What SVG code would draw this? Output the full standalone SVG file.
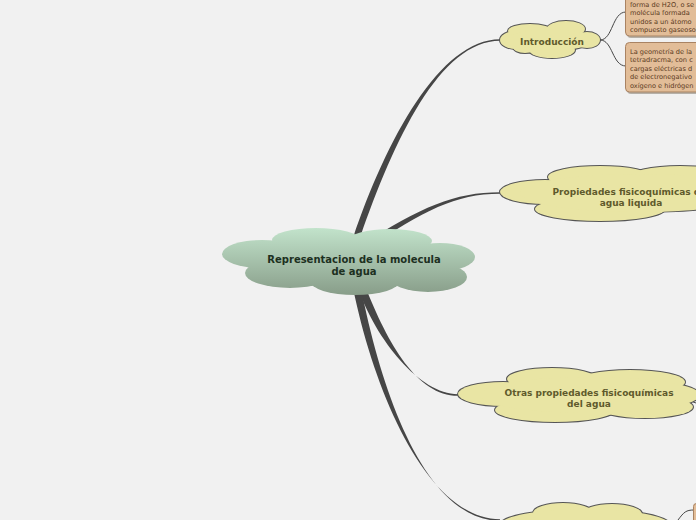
<svg xmlns="http://www.w3.org/2000/svg" width="696" height="520" viewBox="0 0 696 520">
<defs>
<linearGradient id="gc" gradientUnits="userSpaceOnUse" x1="0" y1="228" x2="0" y2="296">
<stop offset="0" stop-color="#c2e3cb"/>
<stop offset="1" stop-color="#879c88"/>
</linearGradient>
<clipPath id="cb1"><rect x="625" y="-6" width="80" height="42" rx="4"/></clipPath>
<clipPath id="cb2"><rect x="625" y="42" width="80" height="50" rx="4"/></clipPath>
</defs>
<style>
.yo ellipse{fill:none;stroke:#555;stroke-width:2}
.yf ellipse{fill:#e9e5a4;stroke:none}
.ct{font-family:"DejaVu Sans",Verdana,sans-serif;font-weight:bold;text-anchor:middle}
.yt{font-size:9px;fill:#5f5a2c}
.bt{font-family:"DejaVu Sans",Verdana,sans-serif;font-size:6.6px;fill:#5a3a1e}
.box{fill:#e2bd98;stroke:#a98363;stroke-width:1}
.sh{fill:#b5b0a8}
.con{fill:#464646;stroke:none}
.thin{fill:none;stroke:#464646;stroke-width:1}
</style>
<rect width="696" height="520" fill="#f1f1f1"/>

<g id="connectors">
<path class="con" d="M353,238 C386,140 440,39.2 500,39.2 L500,40.8 C440,40.8 394,140 360,238 Z"/>
<path class="con" d="M362,245 C420,207 455,192.2 500,192.2 L500,193.8 C455,193.8 424,211 366,249 Z"/>
<path class="con" d="M358,288 C376,340 420,394.2 458,394.2 L458,395.8 C417,395.8 388,344 365,286 Z"/>
<path class="con" d="M353,288 C376,400 430,519.2 500,519.2 L500,520.8 C428,520.8 383,400 361,288 Z"/>
<path class="thin" d="M600,40 C613,40 612,12 626,12"/>
<path class="thin" d="M600,40 C613,40 612,66 626,66"/>
<path class="thin" d="M678,520 C684,512 686,510 694,510"/>
<path class="thin" d="M688,400 L696,403"/>
</g>

<g id="central">
<g fill="url(#gc)">
<ellipse cx="262" cy="254" rx="40" ry="14"/>
<ellipse cx="316" cy="240" rx="44" ry="12"/>
<ellipse cx="390" cy="241" rx="42" ry="12"/>
<ellipse cx="440" cy="257" rx="35" ry="14"/>
<ellipse cx="428" cy="277" rx="39" ry="15"/>
<ellipse cx="355" cy="281" rx="45" ry="14"/>
<ellipse cx="290" cy="273" rx="45" ry="15"/>
<ellipse cx="350" cy="262" rx="95" ry="22"/>
</g>
<text class="ct" x="354" y="263" font-size="10" fill="#1d301f">Representacion de la molecula</text>
<text class="ct" x="354" y="275" font-size="10" fill="#1d301f">de agua</text>
</g>

<g id="introduccion">
<g class="yo">
<ellipse cx="516" cy="40" rx="16" ry="9"/>
<ellipse cx="530" cy="31" rx="22" ry="7"/>
<ellipse cx="566" cy="29" rx="19" ry="8"/>
<ellipse cx="587" cy="40" rx="13" ry="8"/>
<ellipse cx="552" cy="50" rx="23" ry="8"/>
<ellipse cx="525" cy="47" rx="12" ry="6"/>
<ellipse cx="550" cy="40" rx="42" ry="11"/>
</g>
<g class="yf">
<ellipse cx="516" cy="40" rx="16" ry="9"/>
<ellipse cx="530" cy="31" rx="22" ry="7"/>
<ellipse cx="566" cy="29" rx="19" ry="8"/>
<ellipse cx="587" cy="40" rx="13" ry="8"/>
<ellipse cx="552" cy="50" rx="23" ry="8"/>
<ellipse cx="525" cy="47" rx="12" ry="6"/>
<ellipse cx="550" cy="40" rx="42" ry="11"/>
</g>
<text class="ct yt" x="552" y="45">Introducción</text>
</g>

<g id="box1">
<rect class="sh" x="627" y="-4" width="80" height="42" rx="4"/>
<rect class="box" x="625.5" y="-6" width="80" height="42" rx="4"/>
<g clip-path="url(#cb1)">
<text class="bt" x="630" y="6.5">forma de H2O, o se</text>
<text class="bt" x="630" y="15">molécula formada</text>
<text class="bt" x="630" y="23.5">unidos a un átomo</text>
<text class="bt" x="630" y="32">compuesto gaseoso</text>
</g>
</g>

<g id="box2">
<rect class="sh" x="627" y="44" width="80" height="50" rx="4"/>
<rect class="box" x="625.5" y="42.5" width="80" height="49.5" rx="4"/>
<g clip-path="url(#cb2)">
<text class="bt" x="630" y="53.5">La geometría de la</text>
<text class="bt" x="630" y="62">tetradracma, con c</text>
<text class="bt" x="630" y="70.5">cargas eléctricas d</text>
<text class="bt" x="630" y="79">de electronegativo</text>
<text class="bt" x="630" y="87.5">oxígeno e hidrógen</text>
</g>
</g>

<g id="propiedades">
<g class="yo">
<ellipse cx="545" cy="192" rx="45" ry="12"/>
<ellipse cx="600" cy="177" rx="52" ry="11"/>
<ellipse cx="680" cy="178" rx="52" ry="12"/>
<ellipse cx="600" cy="209" rx="65" ry="12"/>
<ellipse cx="640" cy="193" rx="120" ry="19"/>
</g>
<g class="yf">
<ellipse cx="545" cy="192" rx="45" ry="12"/>
<ellipse cx="600" cy="177" rx="52" ry="11"/>
<ellipse cx="680" cy="178" rx="52" ry="12"/>
<ellipse cx="600" cy="209" rx="65" ry="12"/>
<ellipse cx="640" cy="193" rx="120" ry="19"/>
</g>
<text class="ct yt" x="631" y="195">Propiedades fisicoquímicas del</text>
<text class="ct yt" x="631" y="206">agua liquida</text>
</g>

<g id="otras">
<g class="yo">
<ellipse cx="503" cy="394" rx="45" ry="12"/>
<ellipse cx="552" cy="379" rx="45" ry="11"/>
<ellipse cx="630" cy="382" rx="55" ry="12"/>
<ellipse cx="555" cy="410" rx="60" ry="12"/>
<ellipse cx="645" cy="407" rx="48" ry="11"/>
<ellipse cx="590" cy="395" rx="110" ry="18"/>
</g>
<g class="yf">
<ellipse cx="503" cy="394" rx="45" ry="12"/>
<ellipse cx="552" cy="379" rx="45" ry="11"/>
<ellipse cx="630" cy="382" rx="55" ry="12"/>
<ellipse cx="555" cy="410" rx="60" ry="12"/>
<ellipse cx="645" cy="407" rx="48" ry="11"/>
<ellipse cx="590" cy="395" rx="110" ry="18"/>
</g>
<text class="ct yt" x="589" y="396">Otras propiedades fisicoquímicas</text>
<text class="ct yt" x="589" y="407">del agua</text>
</g>

<g id="bottom">
<g class="yo">
<ellipse cx="563" cy="513" rx="30" ry="10"/>
<ellipse cx="612" cy="514" rx="30" ry="10"/>
<ellipse cx="585" cy="525" rx="85" ry="16"/>
</g>
<g class="yf">
<ellipse cx="563" cy="513" rx="30" ry="10"/>
<ellipse cx="612" cy="514" rx="30" ry="10"/>
<ellipse cx="585" cy="525" rx="85" ry="16"/>
</g>
</g>

<g id="box3">
<rect class="sh" x="695" y="505" width="20" height="20" rx="3"/>
<rect class="box" x="693.5" y="503.5" width="20" height="20" rx="3"/>
</g>
</svg>
